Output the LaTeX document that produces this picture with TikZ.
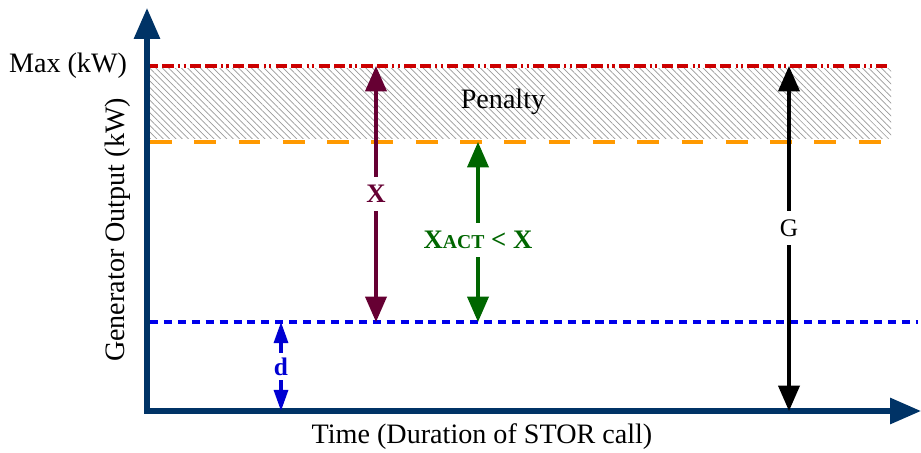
\documentclass[tikz,border=0pt]{standalone}
\usepackage{fontspec}
\setmainfont{Liberation Serif}
\usetikzlibrary{arrows.meta,patterns.meta}
\definecolor{axisblue}{RGB}{0,51,102}
\definecolor{maxred}{RGB}{204,0,0}
\definecolor{actorange}{RGB}{255,153,0}
\definecolor{minblue}{RGB}{0,0,235}
\definecolor{xmaroon}{RGB}{102,0,51}
\definecolor{xgreen}{RGB}{0,102,0}
\definecolor{dblue}{RGB}{0,0,210}
\tikzset{
  axisline/.style={axisblue, line width=3.6pt, line join=miter,
    {Triangle[length=22pt,width=18pt]}-{Triangle[length=22pt,width=18pt]}},
  maxline/.style={maxred, line width=2.8pt,
    dash pattern=on 8pt off 3pt on 8pt off 3pt on 1.5pt off 2.5pt on 1.5pt off 3pt},
  actline/.style={actorange, line width=2.8pt, dash pattern=on 15.5pt off 16pt},
  minline/.style={minblue, line width=2.2pt, dash pattern=on 5.7pt off 4.2pt},
  measure/.style={line width=2.4pt, {Triangle[length=18pt,width=15pt]}-{Triangle[length=18pt,width=15pt]}},
  lbl/.style={fill=white, inner sep=4pt, font=\fontsize{19}{21}\selectfont\bfseries},
}
\begin{document}
\begin{tikzpicture}[x=0.025cm, y=-0.025cm, every node/.style={font=\fontsize{20}{24}\selectfont}]
  \useasboundingbox (0,0) rectangle (921,453);
  \coordinate (O) at (147,411); \coordinate (Ytop) at (147,8); \coordinate (Xend) at (921,411);
  \coordinate (M0) at (147,66); \coordinate (M1) at (888,66);
  \coordinate (A0) at (150,142); \coordinate (A1) at (893,142);
  \coordinate (B0) at (150,322); \coordinate (B1) at (918,322);
  % penalty band
  \fill[pattern={Lines[angle=-45,distance=3.2pt,line width=0.5pt]}, pattern color=gray!80]
    (150,69) rectangle (891,138);
  \draw[maxline] (M0) -- (M1);
  \draw[actline] (A0) -- (A1);
  \draw[minline] (B0) -- (B1);
  \draw[axisline] (Ytop) -- (O) -- (Xend);
  \node (maxlbl) at (68,66) {Max (kW)};
  \node (penalty) at (503,102) {Penalty};
  \node (xlbl) at (482,437) {Time (Duration of STOR call)};
  \node[rotate=90] (ylbl) at (118,230) {Generator Output (kW)};
  % measures
  \draw[measure, xmaroon] (376,66) -- node[lbl, text=xmaroon, inner ysep=6pt] (X) {X} (376,322);
  \draw[measure, xgreen] (478,142) -- node[lbl, text=xgreen, pos=.545, inner xsep=1pt, inner ysep=6pt] (Xact)
    {X{\fontsize{14}{16}\selectfont ACT} \textless{} X} (478,322);
  \draw[measure, black] (789,66) -- node[lbl, pos=.47, font=\fontsize{18}{20}\selectfont, inner ysep=6pt] (G) {G} (789,411);
  \draw[line width=2.2pt, dblue, {Triangle[length=15pt,width=10pt]}-{Triangle[length=15pt,width=10pt]}]
    (281,322) -- node[lbl, text=dblue, inner sep=3pt, font=\fontsize{18}{20}\selectfont\bfseries] (d) {d} (281,411);
\end{tikzpicture}
\end{document}
